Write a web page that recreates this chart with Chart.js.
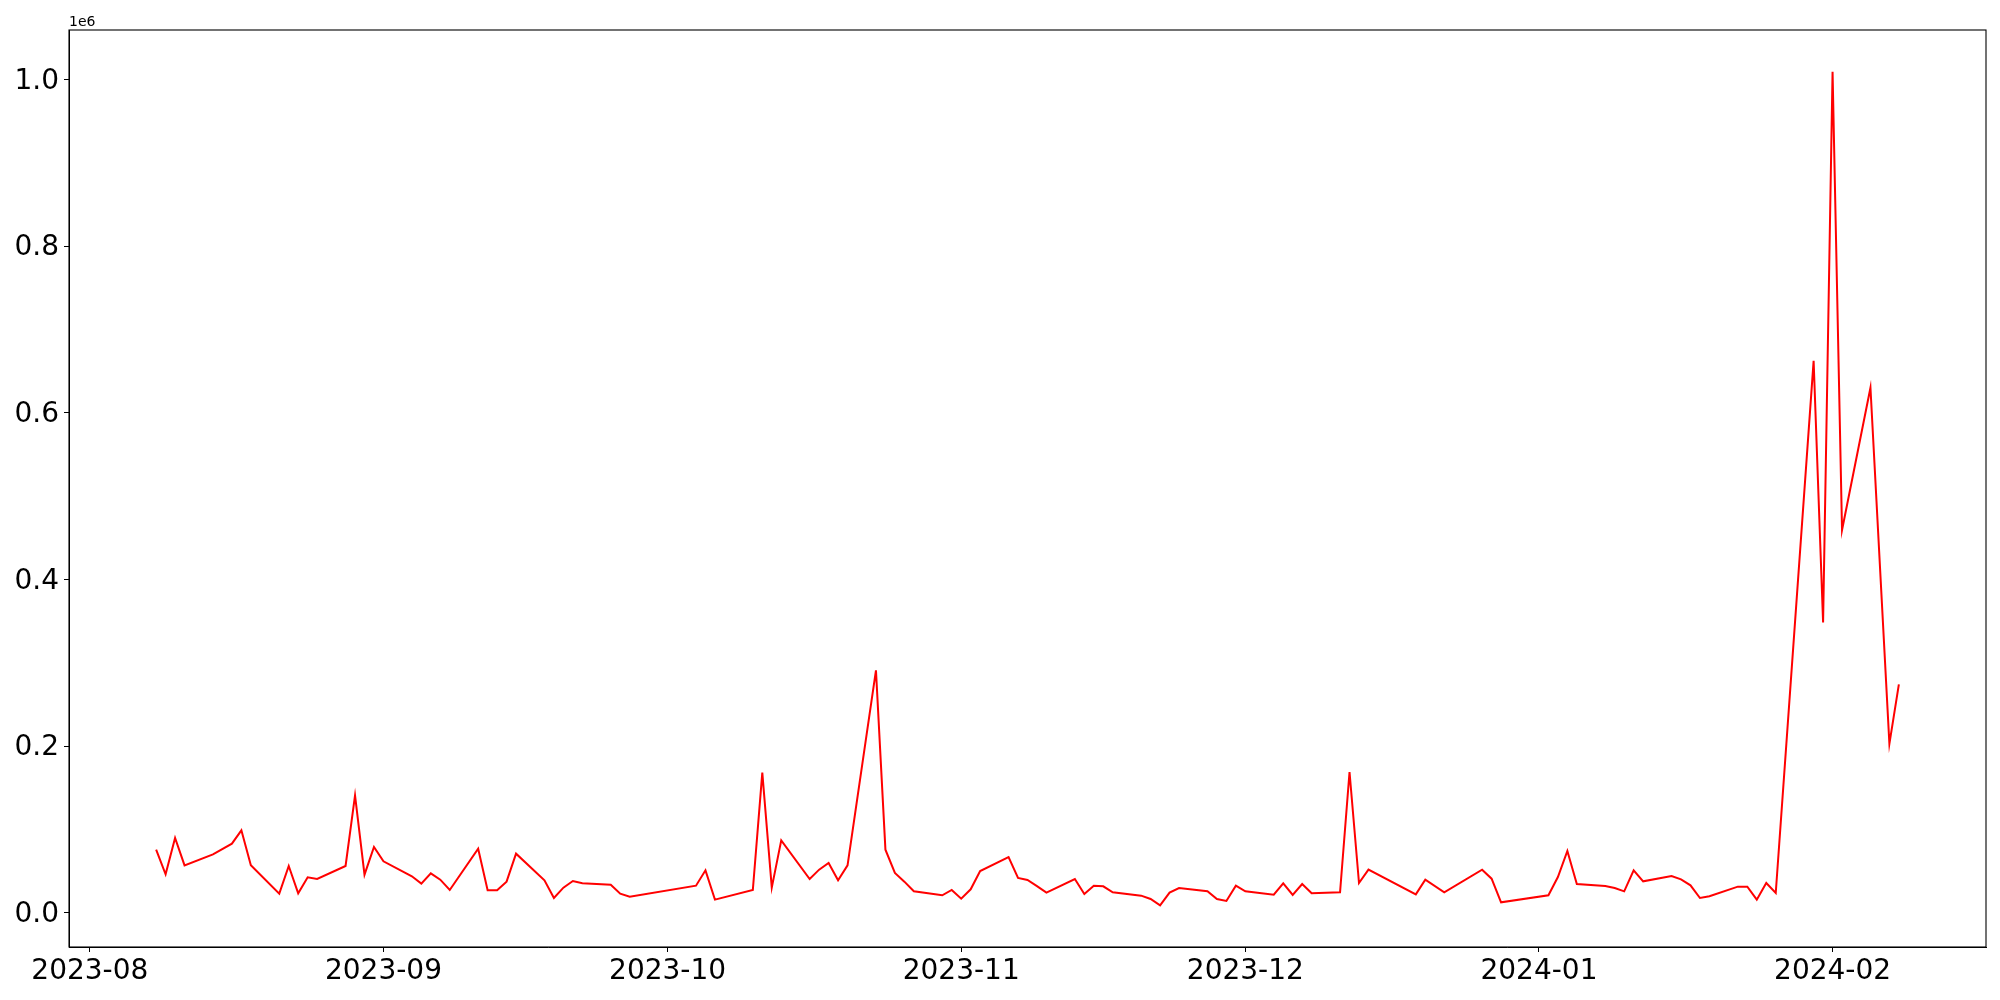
<!DOCTYPE html>
<html>
<head>
<meta charset="utf-8">
<script src="https://cdn.jsdelivr.net/npm/chart.js@4/dist/chart.umd.min.js"></script>
<style>
  body { margin: 0; background: #fff; }
  canvas { display: block; }
</style>
</head>
<body>
<canvas id="chart" width="2000" height="1000"></canvas>
<script>
// daily values (dates with no point are missing in the source)
const dates = [
  '2023-08-08','2023-08-09','2023-08-10','2023-08-11','2023-08-14','2023-08-16','2023-08-17','2023-08-18',
  '2023-08-21','2023-08-22','2023-08-23','2023-08-24','2023-08-25','2023-08-28','2023-08-29','2023-08-30',
  '2023-08-31','2023-09-01','2023-09-04','2023-09-05','2023-09-06','2023-09-07','2023-09-08','2023-09-11',
  '2023-09-12','2023-09-13','2023-09-14','2023-09-15','2023-09-18','2023-09-19','2023-09-20','2023-09-21',
  '2023-09-22','2023-09-25','2023-09-26','2023-09-27','2023-10-04','2023-10-05','2023-10-06','2023-10-10',
  '2023-10-11','2023-10-12','2023-10-13','2023-10-16','2023-10-17','2023-10-18','2023-10-19','2023-10-20',
  '2023-10-23','2023-10-24','2023-10-25','2023-10-26','2023-10-27','2023-10-30','2023-10-31','2023-11-01',
  '2023-11-02','2023-11-03','2023-11-06','2023-11-07','2023-11-08','2023-11-09','2023-11-10','2023-11-13',
  '2023-11-14','2023-11-15','2023-11-16','2023-11-17','2023-11-20','2023-11-21','2023-11-22','2023-11-23',
  '2023-11-24','2023-11-27','2023-11-28','2023-11-29','2023-11-30','2023-12-01','2023-12-04','2023-12-05',
  '2023-12-06','2023-12-07','2023-12-08','2023-12-11','2023-12-12','2023-12-13','2023-12-14','2023-12-19',
  '2023-12-20','2023-12-22','2023-12-26','2023-12-27','2023-12-28','2024-01-02','2024-01-03','2024-01-04',
  '2024-01-05','2024-01-08','2024-01-09','2024-01-10','2024-01-11','2024-01-12','2024-01-15','2024-01-16',
  '2024-01-17','2024-01-18','2024-01-19','2024-01-22','2024-01-23','2024-01-24','2024-01-25','2024-01-26',
  '2024-01-30','2024-01-31','2024-02-01','2024-02-02','2024-02-05','2024-02-07','2024-02-08'
];
const values = [
  75600, 46000, 89600, 56800, 70000, 82800, 98800, 56800,
  22800, 56000, 23200, 42400, 40400, 56000, 140800, 45600,
  78800, 61600, 43600, 34800, 47200, 39600, 27200, 76800,
  26800, 26800, 37200, 70800, 38800, 17600, 30000, 38000,
  35200, 33600, 22800, 19200, 32400, 50800, 15600, 27200,
  168000, 30000, 86800, 40400, 51600, 59600, 38800, 56800,
  290900, 75600, 47600, 37200, 25600, 20800, 27200, 16800,
  28000, 50000, 66800, 41600, 39200, 31900, 24000, 40400,
  22400, 32400, 31600, 24400, 20400, 16400, 8800, 24000,
  29600, 25600, 16400, 14000, 32400, 25600, 21600, 35200,
  21200, 34400, 23200, 24400, 168800, 35600, 51600, 22000,
  39600, 24400, 51600, 40800, 12400, 20800, 42800, 74000,
  34400, 32000, 29600, 25600, 50800, 37600, 44000, 40000,
  32800, 17600, 19600, 31200, 31200, 15600, 35600, 23600,
  662300, 348300, 1009400, 459300, 630100, 202600, 274000
];
const yTicks = [0, 200000, 400000, 600000, 800000, 1000000];
const xTickMonths = ['2023-08','2023-09','2023-10','2023-11','2023-12','2024-01','2024-02'];

const toMs = s => Date.parse(s + 'T00:00:00Z');
const points = dates.map((d, i) => ({ x: toMs(d), y: values[i] }));

// matplotlib style 5% margins around the data
const xFirst = points[0].x, xLast = points[points.length - 1].x;
const xPad = (xLast - xFirst) * 0.05;
const yMin = Math.min(...values), yMax = Math.max(...values);
const yPad = (yMax - yMin) * 0.05;

const font = { family: 'DejaVu Sans', size: 28 };

const framePlugin = {
  id: 'frame',
  afterDraw(chart) {
    const { ctx, chartArea: a } = chart;
    ctx.save();
    ctx.strokeStyle = '#000';
    ctx.lineWidth = 1.1;
    ctx.strokeRect(a.left, a.top, a.right - a.left, a.bottom - a.top);
    ctx.fillStyle = '#000';
    ctx.font = '14px "DejaVu Sans"';
    ctx.textAlign = 'left';
    ctx.textBaseline = 'alphabetic';
    ctx.fillText('1e6', a.left, a.top - 4);
    ctx.restore();
  }
};

new Chart(document.getElementById('chart'), {
  type: 'line',
  data: {
    datasets: [{
      data: points,
      borderColor: '#ff0000',
      borderWidth: 2,
      pointRadius: 0,
      tension: 0,
      fill: false
    }]
  },
  options: {
    responsive: false,
    animation: false,
    devicePixelRatio: 1,
    layout: { padding: { top: 30, right: 14, bottom: 0, left: 0 } },
    plugins: { legend: { display: false }, tooltip: { enabled: false } },
    scales: {
      x: {
        type: 'linear',
        min: xFirst - xPad,
        max: xLast + xPad,
        afterBuildTicks: scale => {
          scale.ticks = xTickMonths.map(m => ({ value: toMs(m + '-01') }));
        },
        afterFit: scale => { scale.height = 53; },
        grid: { drawOnChartArea: false, drawTicks: true, tickLength: 5, color: '#000' },
        border: { color: '#000', width: 1 },
        ticks: {
          autoSkip: false,
          maxRotation: 0,
          padding: 3,
          color: '#000',
          font: font,
          callback: v => {
            const d = new Date(v);
            return d.getUTCFullYear() + '-' + String(d.getUTCMonth() + 1).padStart(2, '0');
          }
        }
      },
      y: {
        type: 'linear',
        min: yMin - yPad,
        max: yMax + yPad,
        afterBuildTicks: scale => {
          scale.ticks = yTicks.map(v => ({ value: v }));
        },
        afterFit: scale => { scale.width = 69; },
        grid: { drawOnChartArea: false, drawTicks: true, tickLength: 5, color: '#000' },
        border: { color: '#000', width: 1 },
        ticks: {
          padding: 5,
          labelOffset: 2,
          color: '#000',
          font: font,
          callback: v => (v / 1e6).toFixed(1)
        }
      }
    }
  },
  plugins: [framePlugin]
});
</script>
</body>
</html>
